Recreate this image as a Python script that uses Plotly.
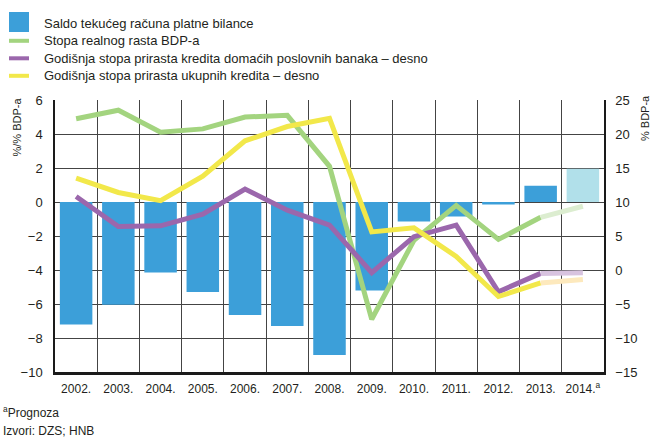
import plotly.graph_objects as go

# ---- data ----
years = ["2002.", "2003.", "2004.", "2005.", "2006.", "2007.", "2008.",
         "2009.", "2010.", "2011.", "2012.", "2013.", "2014.<sup>a</sup>"]
saldo = [-7.2, -6.05, -4.15, -5.3, -6.65, -7.3, -9.0, -5.2, -1.15, -0.85, -0.15, 0.95, 1.95]
bdp = [4.9, 5.4, 4.1, 4.3, 5.0, 5.1, 2.1, -6.9, -2.25, -0.2, -2.2, -0.9, -0.25]
kred_banke = [10.8, 6.4, 6.5, 8.2, 11.9, 8.8, 6.6, -0.4, 4.9, 6.6, -3.2, -0.5, -0.4]
kred_ukupni = [13.5, 11.4, 10.2, 13.8, 19.0, 21.1, 22.3, 5.6, 6.2, 2.0, -3.9, -1.9, -1.4]
forecast_from = 12  # index of the forecast year

names = ["Saldo tekućeg računa platne bilance",
         "Stopa realnog rasta BDP-a",
         "Godišnja stopa prirasta kredita domaćih poslovnih banaka – desno",
         "Godišnja stopa prirasta ukupnih kredita – desno"]

# ---- styles ----
FONT = "Liberation Sans, Arial, sans-serif"
TXT = "#231f20"
c_bar, c_bar_f = "#3c9fd9", "#b1e0ea"
c_green, c_green_f = "#a3d47f", "#dcedd0"
c_purple, c_purple_f = "#9b67ac", "#d8c3df"
c_yellow, c_yellow_f = "#f2e84a", "#fde9bd"
LW = 5

W, H = 652, 438
ML, MR, MT, MB = 55, 48, 100, 66
PW, PH = W - ML - MR, H - MT - MB


def px(x):
    return (x - ML) / PW


def py(y):
    return 1 - (y - MT) / PH


fig = go.Figure()

bar_colors = [c_bar if i < forecast_from else c_bar_f for i in range(len(years))]
fig.add_trace(go.Bar(x=years, y=saldo, name=names[0], marker=dict(color=bar_colors, line_width=0),
                     yaxis="y", showlegend=False))

series = [(bdp, "y", c_green, c_green_f, names[1]),
          (kred_banke, "y2", c_purple, c_purple_f, names[2]),
          (kred_ukupni, "y2", c_yellow, c_yellow_f, names[3])]
for vals, ax, col, colf, nm in series:
    fig.add_trace(go.Scatter(x=years[:forecast_from], y=vals[:forecast_from], mode="lines",
                             line=dict(color=col, width=LW), yaxis=ax, name=nm, showlegend=False))
    fig.add_trace(go.Scatter(x=years[forecast_from - 1:], y=vals[forecast_from - 1:], mode="lines",
                             line=dict(color=colf, width=LW), yaxis=ax, name=nm + " (prognoza)",
                             showlegend=False))

# ---- manual legend ----
shapes = []
annotations = []
leg_rows = [23.3, 40.8, 58.3, 75.8]
shapes.append(dict(type="rect", xref="paper", yref="paper", x0=px(9), x1=px(29), y0=py(12), y1=py(32),
                   fillcolor=c_bar, line_width=0, layer="above"))
for row, col in zip(leg_rows[1:], [c_green, c_purple, c_yellow]):
    shapes.append(dict(type="line", xref="paper", yref="paper", x0=px(9), x1=px(29), y0=py(row), y1=py(row),
                       line=dict(color=col, width=4), layer="above"))
for row, nm in zip(leg_rows, names):
    annotations.append(dict(text=nm, xref="paper", yref="paper", x=px(42), y=py(row), xanchor="left",
                            yanchor="middle", showarrow=False, font=dict(size=13, color=TXT, family=FONT)))

annotations.append(dict(text="%/% BDP-a", xref="paper", yref="paper", x=px(16), y=py(96), textangle=-90,
                        xanchor="center", yanchor="top", showarrow=False,
                        font=dict(size=11, color=TXT, family=FONT)))
annotations.append(dict(text="% BDP-a", xref="paper", yref="paper", x=px(645), y=py(93), textangle=-90,
                        xanchor="center", yanchor="top", showarrow=False,
                        font=dict(size=11, color=TXT, family=FONT)))
annotations.append(dict(text="<sup>a</sup>Prognoza", xref="paper", yref="paper", x=px(1), y=py(412),
                        xanchor="left", yanchor="middle", showarrow=False,
                        font=dict(size=12, color=TXT, family=FONT)))
annotations.append(dict(text="Izvori: DZS; HNB", xref="paper", yref="paper", x=px(1), y=py(431),
                        xanchor="left", yanchor="middle", showarrow=False,
                        font=dict(size=12, color=TXT, family=FONT)))

fig.update_layout(
    width=W, height=H, margin=dict(l=ML, r=MR, t=MT, b=MB, autoexpand=False),
    paper_bgcolor="white", plot_bgcolor="white",
    bargap=0.23,
    font=dict(family=FONT, size=12, color=TXT),
    shapes=shapes, annotations=annotations,
    xaxis=dict(type="category", tickson="boundaries", showgrid=True, gridcolor="#444444", gridwidth=1.2,
               showline=True, linecolor="#1a1a1a", linewidth=2.5, ticks="", ticklabelstandoff=4,
               tickangle=0, tickfont=dict(size=12, family=FONT, color=TXT), range=[-0.5, 12.5]),
    yaxis=dict(range=[-10, 6], dtick=2, tick0=0, showgrid=True, gridcolor="#444444", gridwidth=1.2,
               zeroline=False, showline=True, linecolor="#1a1a1a", linewidth=1.5, ticks="",
               ticklabelstandoff=8, tickfont=dict(size=13, family=FONT, color=TXT)),
    yaxis2=dict(range=[-15, 25], dtick=5, tick0=0, overlaying="y", side="right", showgrid=False,
                zeroline=False, showline=True, linecolor="#1a1a1a", linewidth=1.5, ticks="",
                ticklabelstandoff=7, tickfont=dict(size=13, family=FONT, color=TXT)),
)

fig.write_html("out.html", config={"displayModeBar": False},
               post_script="document.body.style.margin='0';document.body.style.overflow='hidden';")
